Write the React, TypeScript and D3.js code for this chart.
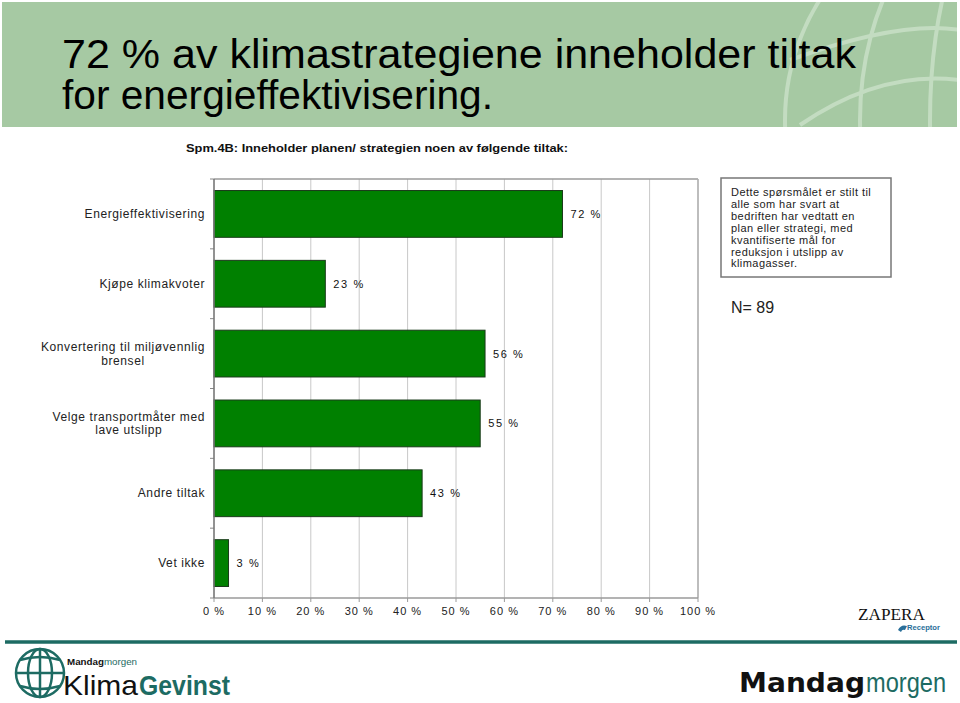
import React from "react";
import * as d3 from "d3";

const categoryLines: string[][] = [
  ["Energieffektivisering"],
  ["Kjøpe klimakvoter"],
  ["Konvertering til miljøvennlig", "brensel"],
  ["Velge transportmåter med", "lave utslipp"],
  ["Andre tiltak"],
  ["Vet ikke"],
];
const values: number[] = [72, 23, 56, 55, 43, 3];
const tickValues: number[] = [0, 10, 20, 30, 40, 50, 60, 70, 80, 90, 100];
const titleLines: string[] = [
  "72 % av klimastrategiene inneholder tiltak",
  "for energieffektivisering.",
];
const subtitle = "Spm.4B: Inneholder planen/ strategien noen av følgende tiltak:";
const noteLines: string[] = [
  "Dette spørsmålet er stilt til",
  "alle som har svart at",
  "bedriften har vedtatt en",
  "plan eller strategi, med",
  "kvantifiserte mål for",
  "reduksjon i utslipp av",
  "klimagasser.",
];
const nLabel = "N= 89";

const FONT = "'Liberation Sans', Arial, Helvetica, sans-serif";
const NARROW = "'Liberation Sans Narrow', 'Arial Narrow', 'Liberation Sans', Arial, sans-serif";
const TEAL = "#1d6b63";

function measure(text: string, font: string, ls: number): number {
  const c = document.createElement("canvas").getContext("2d");
  if (!c) return text.length * 6;
  c.font = font;
  return c.measureText(text).width + ls * text.length;
}

export default function App() {
  const left = 214, right = 698, top = 179, bottom = 598;
  const x = d3.scaleLinear().domain([0, 100]).range([left, right]);
  const y = d3
    .scaleBand<number>()
    .domain(d3.range(values.length))
    .range([top, bottom])
    .paddingInner(0.33)
    .paddingOuter(0.165);
  const step = y.step();
  const catLs = 0.6;

  return (
    <svg width={960} height={703} style={{ position: "absolute", left: 0, top: 0, background: "#fff" }}>
      <defs>
        <clipPath id="band">
          <rect x={2} y={2} width={955} height={125} />
        </clipPath>
      </defs>
      {/* header band */}
      <rect x={2} y={2} width={955} height={125} fill="#a6c9a3" />
      <g clipPath="url(#band)" fill="none" stroke="#c3dcc1" strokeWidth={4}>
        <circle cx={1010} cy={120} r={225} />
        <ellipse cx={1010} cy={120} rx={150} ry={225} />
        <ellipse cx={1010} cy={120} rx={80} ry={225} />
        <path d="M 790 60 Q 900 20 960 30" />
        <path d="M 800 125 Q 880 70 960 80" />
      </g>
      {titleLines.map((t, i) => (
        <text
          key={i}
          x={62}
          y={68 + i * 41}
          fontFamily={NARROW}
          fontSize={40}
          fill="#000"
          textLength={i === 0 ? 794 : 431}
          lengthAdjust="spacingAndGlyphs"
        >
          {t}
        </text>
      ))}
      <text x={186} y={152} fontFamily={NARROW} fontSize={11.5} fontWeight="bold" fill="#111"
        textLength={382} lengthAdjust="spacingAndGlyphs">
        {subtitle}
      </text>

      {/* plot frame & grid */}
      <g>
        {tickValues.map((t) => (
          <line key={t} x1={x(t)} x2={x(t)} y1={top} y2={bottom} stroke="#c8c8c8" strokeWidth={1} />
        ))}
        <line x1={left} x2={right} y1={top} y2={top} stroke="#9a9a9a" strokeWidth={1.5} />
        <line x1={right} x2={right} y1={top} y2={bottom} stroke="#b0b0b0" strokeWidth={1.5} />
        <line x1={left} x2={right} y1={bottom} y2={bottom} stroke="#9a9a9a" strokeWidth={1.5} />
        {tickValues.map((t) => (
          <line key={"tk" + t} x1={x(t)} x2={x(t)} y1={bottom} y2={bottom + 4} stroke="#9a9a9a" />
        ))}
        {d3.range(values.length + 1).map((i) => (
          <line key={"yt" + i} x1={left - 4} x2={left} y1={top + i * step} y2={top + i * step} stroke="#888" />
        ))}
      </g>

      {/* bars */}
      {values.map((v, i) => (
        <g key={i}>
          <rect
            x={x(0)}
            y={y(i)!}
            width={x(v) - x(0)}
            height={y.bandwidth()}
            fill="#008000"
            stroke="#1a3a1a"
            strokeWidth={1}
          />
          <text
            x={x(v) + 8}
            y={y(i)! + y.bandwidth() / 2 + 4}
            fontFamily={FONT}
            fontSize={11}
            letterSpacing={1.6}
            fill="#111"
          >
            {v} %
          </text>
        </g>
      ))}
      <line x1={left} x2={left} y1={top} y2={bottom} stroke="#777" strokeWidth={1.5} />

      {/* category labels */}
      {categoryLines.map((lines, i) => {
        const cy = y(i)! + y.bandwidth() / 2;
        if (lines.length === 1) {
          return (
            <text key={i} x={205} y={cy + 4} textAnchor="end" fontFamily={FONT} fontSize={12}
              letterSpacing={catLs} fill="#222">
              {lines[0]}
            </text>
          );
        }
        const w = measure(lines[0], `12px ${FONT}`, catLs);
        const cx = 205 - w / 2;
        return (
          <g key={i}>
            {lines.map((l, j) => (
              <text key={j} x={cx} y={cy - 2.5 + j * 13.5} textAnchor="middle" fontFamily={FONT}
                fontSize={12} letterSpacing={catLs} fill="#222">
                {l}
              </text>
            ))}
          </g>
        );
      })}

      {/* x axis labels */}
      {tickValues.map((t) => (
        <text key={"xl" + t} x={x(t)} y={615} textAnchor="middle" fontFamily={FONT} fontSize={11}
          letterSpacing={1} fill="#222">
          {t} %
        </text>
      ))}

      {/* note box */}
      <rect x={721} y={178} width={170} height={99} fill="#fff" stroke="#777" strokeWidth={1.5} />
      {noteLines.map((l, i) => (
        <text key={i} x={731} y={196 + i * 11.9} fontFamily={FONT} fontSize={11} letterSpacing={0.45} fill="#222">
          {l}
        </text>
      ))}
      <text x={731} y={313} fontFamily={FONT} fontSize={16} fill="#222">
        {nLabel}
      </text>

      {/* Zapera logo */}
      <text x={858} y={620} fontFamily="'Liberation Serif', 'DejaVu Serif', serif" fontSize={16}
        fill="#111" textLength={67} lengthAdjust="spacingAndGlyphs">
        ZAPERA
      </text>
      <path d="M 898 630 q 3 -6 9 -4 l -2 4 q -3 -1 -4 2 z" fill="#2a6f9a" />
      <text x={907} y={630} fontFamily={FONT} fontSize={6.5} fontWeight="bold" fill="#2a6f9a"
        textLength={33} lengthAdjust="spacingAndGlyphs">
        Receptor
      </text>

      {/* bottom rule */}
      <line x1={5} x2={957} y1={642} y2={642} stroke={TEAL} strokeWidth={3.5} />

      {/* KlimaGevinst logo */}
      <g fill="none" stroke={TEAL} strokeWidth={2.5}>
        <circle cx={40} cy={673} r={24} />
        <ellipse cx={40} cy={673} rx={12} ry={24} />
        <line x1={40} x2={40} y1={649} y2={697} />
        <line x1={16} x2={64} y1={673} y2={673} />
        <path d="M 20 660 Q 40 654 60 660" />
        <path d="M 20 686 Q 40 692 60 686" />
      </g>
      <text x={67} y={665} fontFamily={FONT} fontSize={9} textLength={70} lengthAdjust="spacingAndGlyphs">
        <tspan fontWeight="bold" fill="#111">Mandag</tspan>
        <tspan fill={TEAL}>morgen</tspan>
      </text>
      <text x={63} y={695} fontFamily={NARROW} fontSize={28} fill="#111" textLength={75} lengthAdjust="spacingAndGlyphs">
        Klima
      </text>
      <text x={139} y={695} fontFamily={NARROW} fontSize={28} fontWeight="bold" fill={TEAL} textLength={91}
        lengthAdjust="spacingAndGlyphs">
        Gevinst
      </text>

      {/* Mandagmorgen logo */}
      <text x={739} y={692} fontFamily="'DejaVu Sans', sans-serif" fontSize={27} fontWeight="bold" fill="#111"
        textLength={126} lengthAdjust="spacingAndGlyphs">
        Mandag
      </text>
      <text x={866} y={692} fontFamily={FONT} fontSize={27} fill={TEAL} textLength={80} lengthAdjust="spacingAndGlyphs">
        morgen
      </text>
    </svg>
  );
}
